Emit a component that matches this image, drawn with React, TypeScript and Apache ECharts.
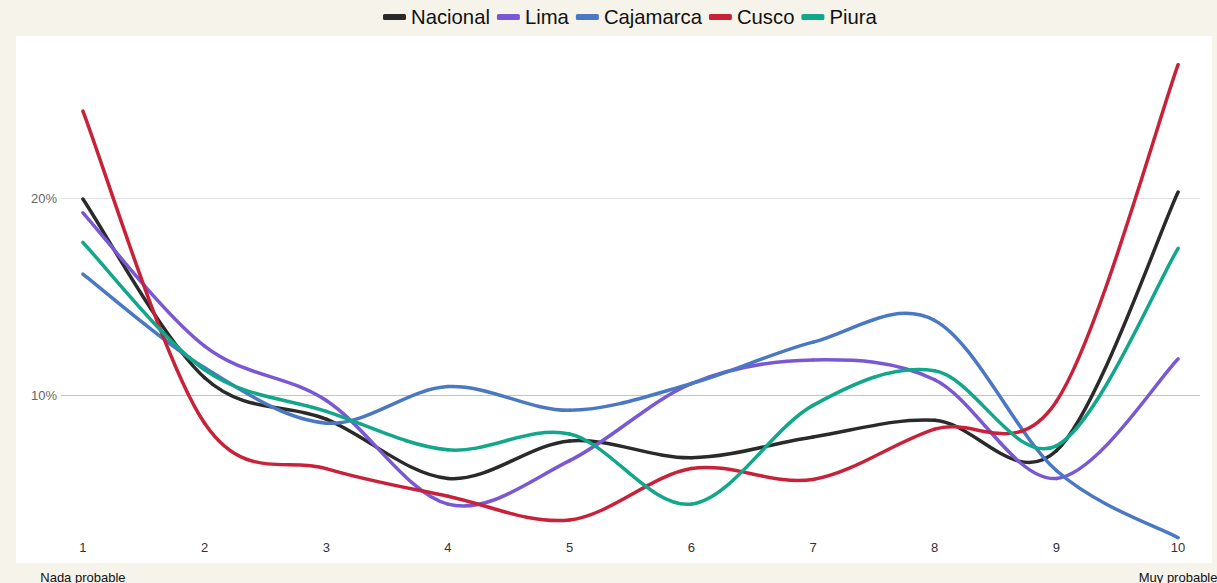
import React, { useEffect, useRef } from "react";
import * as echarts from "echarts";

const xValues = [1, 2, 3, 4, 5, 6, 7, 8, 9, 10];
const seriesNames = ["Nacional", "Lima", "Cajamarca", "Cusco", "Piura"];
const nacional = [19.95, 10.9, 8.8, 5.8, 7.7, 6.85, 7.9, 8.75, 7.2, 20.3];
const lima = [19.25, 12.5, 9.75, 4.5, 6.7, 10.6, 11.8, 10.8, 5.8, 11.85];
const cajamarca = [16.15, 11.4, 8.6, 10.45, 9.25, 10.6, 12.7, 13.8, 6.2, 2.8];
const cusco = [24.4, 8.6, 6.3, 4.9, 3.7, 6.3, 5.75, 8.3, 9.7, 26.75];
const piura = [17.75, 11.3, 9.2, 7.25, 8.05, 4.5, 9.5, 11.25, 7.45, 17.45];
const colors = ["#2a2a2a", "#7a58d4", "#4a78c3", "#c8213a", "#12a68a"];
const yTicks = [10, 20];
const endLabels = ["Nada probable", "Muy probable"];

const FONT = "'Liberation Sans', Arial, sans-serif";

export default function App() {
  const ref = useRef<HTMLDivElement>(null);
  useEffect(() => {
    document.body.style.margin = "0";
    const chart = echarts.init(ref.current!, null, { renderer: "svg" });
    const all = [nacional, lima, cajamarca, cusco, piura];
    const xMin = 0.82;
    const xMax = 10.18;
    const gridLeft = 61;
    const gridRight = 17;
    const plotW = 1217 - gridLeft - gridRight;
    const xPix = (v: number) => gridLeft + ((v - xMin) / (xMax - xMin)) * plotW;
    chart.setOption({
      animation: false,
      backgroundColor: "#f6f3eb",
      textStyle: { fontFamily: FONT },
      color: colors,
      legend: {
        top: 2,
        left: 378,
        icon: "roundRect",
        itemWidth: 23,
        itemHeight: 6,
        itemGap: 7,
        textStyle: { fontSize: 20.3, color: "#111", fontFamily: FONT },
        data: seriesNames,
      },
      graphic: [
        {
          type: "rect",
          z: -100,
          silent: true,
          shape: { x: 16, y: 36, width: 1196, height: 527 },
          style: { fill: "#ffffff" },
        },
        {
          type: "text",
          x: xPix(xValues[0]),
          y: 577,
          style: {
            text: endLabels[0],
            fill: "#111",
            font: `13px ${FONT}`,
            textAlign: "center",
            textVerticalAlign: "middle",
          },
        },
        {
          type: "text",
          x: xPix(xValues[xValues.length - 1]),
          y: 577,
          style: {
            text: endLabels[1],
            fill: "#111",
            font: `13px ${FONT}`,
            textAlign: "center",
            textVerticalAlign: "middle",
          },
        },
      ],
      grid: {
        left: gridLeft,
        right: gridRight,
        top: 0.5,
        bottom: -10,
        outerBoundsMode: "none",
        containLabel: false,
      },
      xAxis: {
        type: "value",
        min: xMin,
        max: xMax,
        offset: -60,
        axisLine: { show: false },
        axisTick: { show: false },
        splitLine: { show: false },
        axisLabel: {
          customValues: xValues,
          formatter: (v: number) => String(v),
          color: "#333",
          fontSize: 13,
          margin: 8,
        },
      },
      yAxis: {
        type: "value",
        min: 0,
        max: 30,
        interval: 10,
        axisLine: { show: false },
        axisTick: { show: false },
        axisLabel: {
          formatter: (v: number) => (yTicks.includes(v) ? v + "%" : ""),
          color: "#666",
          fontSize: 13,
          margin: 4,
        },
        splitLine: {
          lineStyle: {
            color: ["transparent", "#c4c4c4", "#e0e0e0", "transparent"],
            width: 1,
          },
        },
      },
      series: seriesNames.map((name, si) => ({
        name,
        type: "custom",
        itemStyle: { color: colors[si] },
        encode: { x: 0, y: 1 },
        data: xValues.map((x, j) => [x, all[si][j]]),
        renderItem: (params: any, api: any) => {
          const vals = all[si];
          const n = vals.length;
          const i = params.dataIndex;
          if (i >= n - 1) return null;
          const P = (k: number) => {
            const kk = Math.max(0, Math.min(n - 1, k));
            return api.coord([xValues[kk], vals[kk]]);
          };
          const p0 = P(i - 1);
          const p1 = P(i);
          const p2 = P(i + 1);
          const p3 = P(i + 2);
          return {
            type: "bezierCurve",
            shape: {
              x1: p1[0],
              y1: p1[1],
              x2: p2[0],
              y2: p2[1],
              cpx1: p1[0] + (p2[0] - p0[0]) / 6,
              cpy1: p1[1] + (p2[1] - p0[1]) / 6,
              cpx2: p2[0] - (p3[0] - p1[0]) / 6,
              cpy2: p2[1] - (p3[1] - p1[1]) / 6,
            },
            style: {
              stroke: colors[si],
              lineWidth: 3.5,
              fill: "none",
              lineCap: "round",
            },
          };
        },
      })),
    });
    return () => chart.dispose();
  }, []);
  return (
    <div
      ref={ref}
      style={{ position: "fixed", left: 0, top: 0, width: 1217, height: 583 }}
    />
  );
}
